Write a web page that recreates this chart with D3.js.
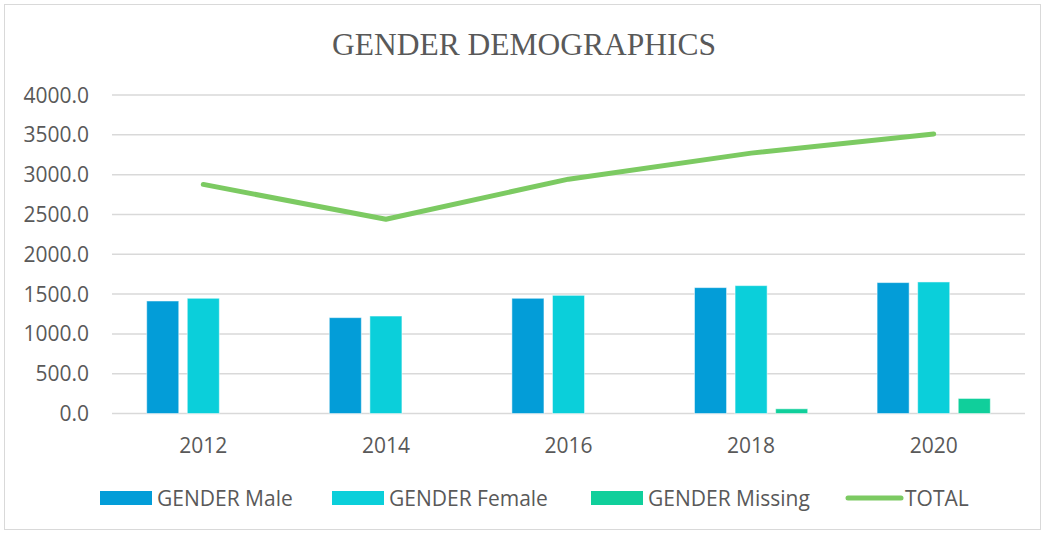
<!DOCTYPE html>
<html>
<head>
<meta charset="utf-8">
<script src="https://cdn.jsdelivr.net/npm/d3@7"></script>
<style>
  body { margin: 0; background: #fff; }
  text { font-family: "Open Sans", sans-serif; fill: #595959; }
</style>
</head>
<body>
<div id="container"></div>
<script>
// chart data
const years = ["2012", "2014", "2016", "2018", "2020"]
const seriesNames = ["GENDER Male", "GENDER Female", "GENDER Missing"]
const male = [1413, 1204, 1447, 1581, 1644]
const female = [1447, 1224, 1484, 1606, 1652]
const missing = [0, 0, 0, 59, 189]
const total = [2877, 2440, 2943, 3270, 3509]
const yTicks = [0, 500, 1000, 1500, 2000, 2500, 3000, 3500, 4000]

const colors = ["#039dd8", "#0bcfda", "#10cf9b"]
const lineColor = "#7cca62"

const width = 1045, height = 533
const margin = { top: 95, right: 20, bottom: 120, left: 112 }

const svg = d3.select("#container").append("svg")
  .attr("width", width)
  .attr("height", height)

// outer frame
svg.append("rect")
  .attr("x", 4.5).attr("y", 4.5)
  .attr("width", width - 9).attr("height", height - 8)
  .attr("fill", "none").attr("stroke", "#d9d9d9")

svg.append("text")
  .text("GENDER DEMOGRAPHICS")
  .attr("x", 524).attr("y", 55)
  .attr("text-anchor", "middle")
  .style("font-family", "'Liberation Serif', serif")
  .style("font-size", "31.5px")

const x0 = d3.scaleBand()
  .domain(years)
  .range([margin.left, 1025])
  .paddingInner(0.38)
  .paddingOuter(0.19)

const x1 = d3.scaleBand()
  .domain(seriesNames)
  .range([0, x0.bandwidth()])
  .paddingInner(0.21)
  .paddingOuter(0)

const y = d3.scaleLinear()
  .domain([0, 4000])
  .range([413.5, 95])

// grid
svg.selectAll("line.grid")
  .data(yTicks)
  .join("line")
  .attr("class", "grid")
  .attr("x1", margin.left).attr("x2", 1025)
  .attr("y1", d => y(d)).attr("y2", d => y(d))
  .attr("stroke", "#d9d9d9")
  .attr("stroke-width", 1.5)

svg.selectAll("text.ytick")
  .data(yTicks)
  .join("text")
  .attr("class", "ytick")
  .attr("x", 89)
  .attr("y", d => y(d) + 7.5)
  .attr("text-anchor", "end")
  .style("font-size", "21px")
  .text(d => d.toFixed(1))

svg.selectAll("text.xtick")
  .data(years)
  .join("text")
  .attr("class", "xtick")
  .attr("x", d => x0(d) + x0.bandwidth() / 2)
  .attr("y", 452.5)
  .attr("text-anchor", "middle")
  .style("font-size", "21px")
  .text(d => d)

const barData = []
years.forEach((yr, i) => {
  [male, female, missing].forEach((arr, j) => {
    barData.push({ year: yr, series: seriesNames[j], value: arr[i], color: colors[j] })
  })
})

svg.selectAll("rect.bar")
  .data(barData.filter(d => d.value > 0))
  .join("rect")
  .attr("class", "bar")
  .attr("x", d => x0(d.year) + x1(d.series))
  .attr("width", x1.bandwidth())
  .attr("y", d => y(d.value))
  .attr("height", d => y(0) - y(d.value))
  .attr("fill", d => d.color)
  .attr("stroke", "#ffffff")
  .attr("stroke-opacity", 0.5)

const line = d3.line()
  .x((d, i) => x0(years[i]) + x0.bandwidth() / 2)
  .y(d => y(d))

svg.append("path")
  .datum(total)
  .attr("d", line)
  .attr("fill", "none")
  .attr("stroke", lineColor)
  .attr("stroke-width", 5)
  .attr("stroke-linecap", "round")
  .attr("stroke-linejoin", "round")

// legend
const legendItems = [
  { name: "GENDER Male", x: 100, type: "rect", color: colors[0] },
  { name: "GENDER Female", x: 332, type: "rect", color: colors[1] },
  { name: "GENDER Missing", x: 591, type: "rect", color: colors[2] },
  { name: "TOTAL", x: 848, type: "line", color: lineColor }
]

const lg = svg.selectAll("g.legend")
  .data(legendItems)
  .join("g")
  .attr("class", "legend")
  .attr("transform", d => `translate(${d.x},498)`)

lg.filter(d => d.type === "rect").append("rect")
  .attr("x", 0).attr("y", -7)
  .attr("width", 52).attr("height", 14)
  .attr("fill", d => d.color)

lg.filter(d => d.type === "line").append("line")
  .attr("x1", 0).attr("x2", 53)
  .attr("stroke", d => d.color)
  .attr("stroke-width", 5)
  .attr("stroke-linecap", "round")

lg.append("text")
  .attr("x", 57)
  .attr("y", 7.5)
  .style("font-size", "21px")
  .text(d => d.name)
</script>
</body>
</html>
